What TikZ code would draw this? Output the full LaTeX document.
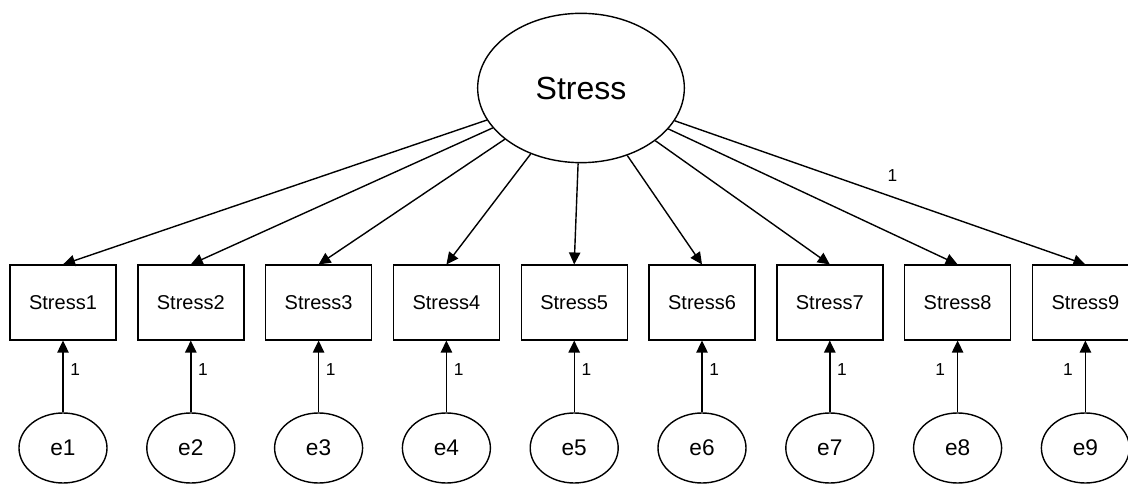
\documentclass[tikz,border=0pt]{standalone}
\usepackage{fontspec}
\setmainfont{Liberation Sans}
\usetikzlibrary{shapes.geometric,arrows.meta}

\begin{document}
\begin{tikzpicture}[x=0.75pt,y=-0.75pt,
  latent/.style={draw,line width=1.05pt,ellipse,inner sep=0pt},
  bigfactor/.style={latent,minimum width=155pt,minimum height=112pt,font=\fontsize{24}{28}\selectfont},
  errterm/.style={latent,minimum width=66pt,minimum height=52.5pt,font=\fontsize{17}{20}\selectfont},
  observed/.style={draw,line width=1.05pt,rectangle,inner sep=0pt,minimum width=79.5pt,minimum height=56pt,font=\fontsize{15}{18}\selectfont},
  path/.style={line width=1.05pt,-{Triangle[length=9pt,width=8.5pt]}},
  wt/.style={font=\fontsize{13}{15}\selectfont,inner sep=0pt}]
  \useasboundingbox (0,0) rectangle (1128,484);

  \node[bigfactor] (F) at (581,88) {Stress};

  \foreach \i in {1,...,9} {
    \pgfmathsetmacro{\xx}{63+127.8*(\i-1)}
    \node[observed] (b\i) at (\xx,302.5) {Stress\i};
    \node[errterm] (e\i) at (\xx,448) {e\i};
  }

  % loadings from the factor to its indicators
  \foreach \i in {1,...,8} {
    \draw[path] (F) -- (b\i.north);
  }
  \draw[path] (F) -- node[wt,pos=0.53,anchor=south,yshift=11pt]{1} (b9.north);

  % error terms (fixed weights)
  \foreach \i in {1,...,7} {
    \draw[path] (e\i) -- node[wt,pos=0.6,anchor=west,xshift=5pt]{1} (b\i);
  }
  \foreach \i in {8,9} {
    \draw[path] (e\i) -- node[wt,pos=0.6,anchor=east,xshift=-9pt]{1} (b\i);
  }
\end{tikzpicture}
\end{document}
